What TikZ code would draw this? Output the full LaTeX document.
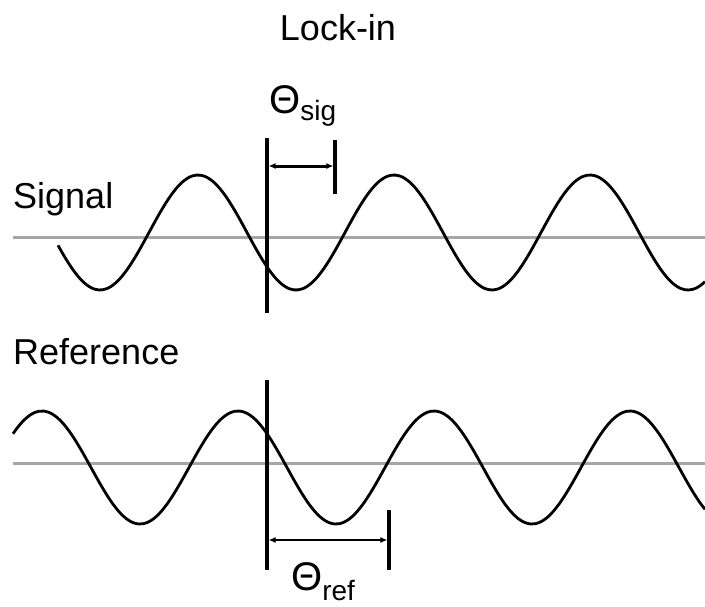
\documentclass[tikz,border=0pt]{standalone}
\usepackage{fontspec}
\setmainfont{Liberation Sans}
\usetikzlibrary{arrows.meta}
\tikzset{axisline/.style={line width=3pt,draw=gray!70},
  wave/.style={line width=2.8pt,draw=black},
  marker/.style={line width=3.2pt,draw=black},
  dimline/.style={{Latex[length=7pt,width=6pt]}-{Latex[length=7pt,width=6pt]}},
  lbl/.style={anchor=base west,inner sep=0pt,font=\fontsize{36}{40}\selectfont},
  theta/.style={anchor=base west,inner sep=0pt,font=\fontsize{40}{44}\selectfont}}
\newcommand*{\DegPerPt}{1.83673}% 360/196
\newcommand*{\SubFont}{\fontsize{28}{30}\selectfont}

\begin{document}
\begin{tikzpicture}[x=1pt,y=-1pt]
\useasboundingbox (0,0) rectangle (705,606);

\node[lbl,anchor=base] (title) at (338,40) {Lock-in};
\node[lbl] (siglbl) at (13,208) {Signal};
\node[lbl] (reflbl) at (13,364) {Reference};

% zero lines
\coordinate (sigaxl) at (13,237);
\coordinate (sigaxr) at (705,237);
\coordinate (refaxl) at (13,463);
\coordinate (refaxr) at (705,463);
\draw[axisline] (sigaxl) -- (sigaxr);
\draw[axisline] (refaxl) -- (refaxr);

% the two waves
\draw[wave,domain=58:705,samples=160,smooth,variable=\x] plot ({\x},{232.5-57.5*cos(\DegPerPt*(\x-198))});
\draw[wave,domain=13:705,samples=160,smooth,variable=\x] plot ({\x},{467.5-56.5*cos(\DegPerPt*(\x-238))});

% phase markers
\coordinate (sigtop) at (267,138);
\coordinate (sigbot) at (267,313);
\coordinate (reftop) at (267,380);
\coordinate (refbot) at (267,570);
\coordinate (sigtickt) at (335,140);
\coordinate (sigtickb) at (335,194);
\coordinate (reftickt) at (389,510);
\coordinate (reftickb) at (389,570);
\draw[marker] (sigtop) -- (sigbot);
\draw[marker] (reftop) -- (refbot);
\draw[marker] (sigtickt) -- (sigtickb);
\draw[marker] (reftickt) -- (reftickb);

\coordinate (sigdl) at (268.6,166);
\coordinate (sigdr) at (333.4,166);
\coordinate (refdl) at (268.6,540);
\coordinate (refdr) at (387.4,540);
\draw[dimline,line width=3pt] (sigdl) -- (sigdr);
\draw[dimline,line width=2pt] (refdl) -- (refdr);

\node[theta] (thsig) at (269,113) {Θ\raisebox{-7pt}{\SubFont sig}};
\node[theta] (thref) at (291,590) {Θ\raisebox{-10pt}{\SubFont ref}};

\end{tikzpicture}
\end{document}
